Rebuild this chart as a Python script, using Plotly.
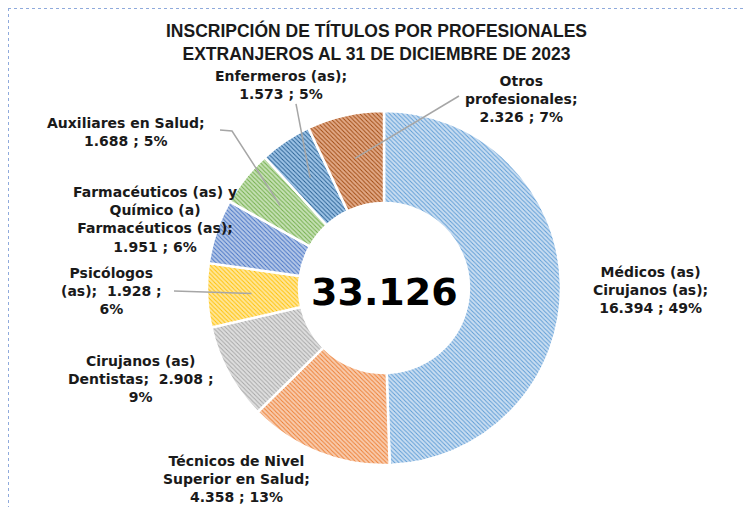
import math
import plotly.graph_objects as go

# ---- data ----
categories = [
    "Médicos (as) Cirujanos (as)",
    "Técnicos de Nivel Superior en Salud",
    "Cirujanos (as) Dentistas",
    "Psicólogos (as)",
    "Farmacéuticos (as) y Químico (a) Farmacéuticos (as)",
    "Auxiliares en Salud",
    "Enfermeros (as)",
    "Otros profesionales",
]
values = [16394, 4358, 2908, 1928, 1951, 1688, 1573, 2326]
value_text = ["16.394", "4.358", "2.908", "1.928", "1.951", "1.688", "1.573", "2.326"]
pct_text = ["49%", "13%", "9%", "6%", "6%", "5%", "5%", "7%"]
total_text = "33.126"
title_lines = ["INSCRIPCIÓN DE TÍTULOS POR PROFESIONALES", "EXTRANJEROS AL 31 DE DICIEMBRE DE 2023"]
colors = ["#5B9BD5", "#ED7D31", "#A5A5A5", "#FFC000", "#4472C4", "#70AD47", "#255E91", "#9E480E"]
light = ["#C9DDF1", "#F8CBAD", "#DEDEDE", "#FFE699", "#B4C7E7", "#C5E0B4", "#9DC3E6", "#E2A987"]

# label text blocks (line-broken as in the reference)
label_lines = [
    ["Médicos (as)", "Cirujanos (as);", "16.394 ; 49%"],
    ["Técnicos de Nivel", "Superior en Salud;", "4.358 ; 13%"],
    ["Cirujanos (as)", "Dentistas;  2.908 ;", "9%"],
    ["Psicólogos", "(as);  1.928 ;", "6%"],
    ["Farmacéuticos (as) y", "Químico (a)", "Farmacéuticos (as);", "1.951 ; 6%"],
    ["Auxiliares en Salud;", "1.688 ; 5%"],
    ["Enfermeros (as);", "1.573 ; 5%"],
    ["Otros", "profesionales;", "2.326 ; 7%"],
]

W, H = 751, 507
OFF = 8  # page body margin: figure origin sits at (8, 8) in the page
CX, CY, R = 384, 288, 177  # pie centre / radius in page px
# label block centres (page px) and leader-line start points (None = no leader)
label_pos = [(650, 290), (236, 479), (140, 379), (112, 291), (155, 219), (126, 132), (281, 85), (521, 99)]
leader_start = [None, None, None, [(174, 291)], None, [(220, 130), (232, 131)], [(296, 104)], [(459, 96)]]

def px(x):
    return (x - OFF) / W

def py(y):
    return 1 - (y - OFF) / H

fig = go.Figure()
fig.add_trace(go.Pie(
    labels=categories,
    values=values,
    sort=False,
    direction="clockwise",
    rotation=0,
    hole=0.48,
    textinfo="none",
    hoverinfo="label+value+percent",
    marker=dict(
        colors=light,
        line=dict(color="white", width=2.5),
        pattern=dict(shape="\\", fgcolor=colors, bgcolor=light, size=3, solidity=0.3),
    ),
    domain=dict(x=[px(CX - R), px(CX + R)], y=[py(CY + R), py(CY - R)]),
    showlegend=False,
))

annotations = []
shapes = []
LABEL_FONT = dict(family="DejaVu Sans", size=14, color="#1a1a1a")

for i, lines in enumerate(label_lines):
    x, y = label_pos[i]
    annotations.append(dict(
        x=px(x), y=py(y), xref="paper", yref="paper",
        text="<br>".join("<b>%s</b>" % l for l in lines),
        showarrow=False, align="center", font=LABEL_FONT,
        xanchor="center", yanchor="middle",
    ))
    if leader_start[i] is not None:
        total = sum(values)
        cum = sum(values[:i]) + values[i] / 2
        ang = 2 * math.pi * cum / total
        r = 0.75 * R
        ex, ey = CX + r * math.sin(ang), CY - r * math.cos(ang)
        pts = leader_start[i] + [(ex, ey)]
        path = "M " + " L ".join("%.4f,%.4f" % (px(a), py(b)) for a, b in pts)
        shapes.append(dict(type="path", xref="paper", yref="paper", path=path,
                           line=dict(color="#A6A6A6", width=1.5)))

# centre total
annotations.append(dict(
    x=px(CX), y=py(CY + 4), xref="paper", yref="paper", text="<b>%s</b>" % total_text,
    showarrow=False, font=dict(family="DejaVu Sans", size=38, color="black"),
    xanchor="center", yanchor="middle",
))
# title (two lines)
annotations.append(dict(
    x=px(376), y=py(42), xref="paper", yref="paper",
    text="<br>".join("<b>%s</b>" % l for l in title_lines),
    showarrow=False, font=dict(family="Liberation Sans", size=17.5, color="#1a1a1a"),
    xanchor="center", yanchor="middle",
))

fig.update_layout(
    width=W, height=H,
    margin=dict(l=0, r=0, t=0, b=0),
    paper_bgcolor="white", plot_bgcolor="white",
    annotations=annotations, shapes=shapes,
)
# chart-area border (figure edge; only top and left fall inside the window)
fig.add_shape(type="line", xref="paper", yref="paper", x0=0, x1=1, y0=1, y1=1,
              line=dict(color="#8FAADC", width=2, dash="dot"))
fig.add_shape(type="line", xref="paper", yref="paper", x0=0, x1=0, y0=0, y1=1,
              line=dict(color="#8FAADC", width=2, dash="dot"))
fig.write_html("out.html")
